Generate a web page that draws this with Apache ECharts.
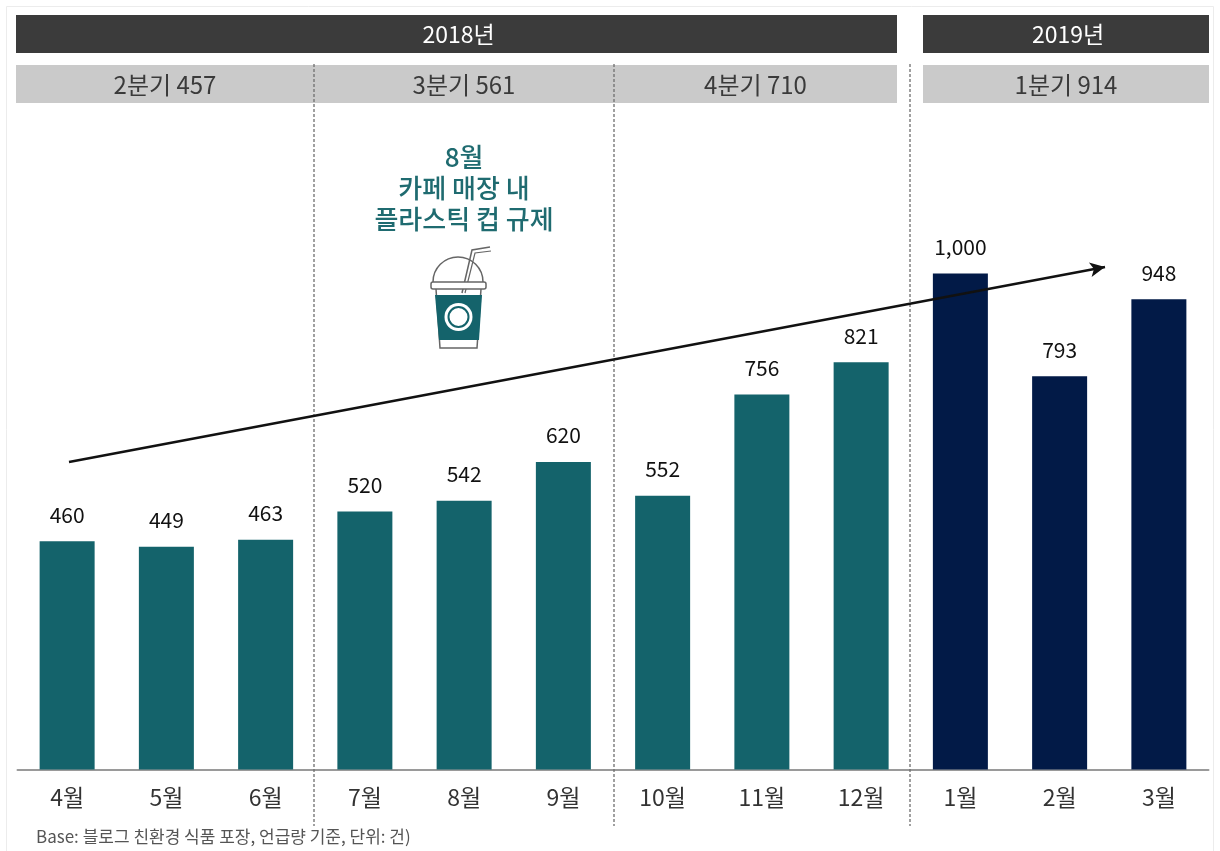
<!DOCTYPE html>
<html><head><meta charset="utf-8">
<style>html,body{margin:0;padding:0;background:#fff}#c{width:1220px;height:851px}</style>
<script src="https://cdn.jsdelivr.net/npm/echarts@6/dist/echarts.min.js"></script>
</head><body><div id="c"></div>
<script>
const months = ['4월','5월','6월','7월','8월','9월','10월','11월','12월','1월','2월','3월'];
const values2018 = [460,449,463,520,542,620,552,756,821,null,null,null];
const values2019 = [null,null,null,null,null,null,null,null,null,1000,793,948];
const yearBands = [['2018년',16,897],['2019년',923,1209]];
const quarterBands = [['2분기 457',16,314],['3분기 561',314,614],['4분기 710',614,897],['1분기 914',923,1209]];
const dividers = [314,614,910];
const noteLines = '8월\n카페 매장 내\n플라스틱 컵 규제';
const footnote = 'Base: 블로그 친환경 식품 포장, 언급량 기준, 단위: 건)';
const FONT = '"Noto Sans CJK KR","Noto Sans",sans-serif';
const TEAL = '#14636b', NAVY = '#021a47';

const graphics = [];
graphics.push({type:'rect',z:0,shape:{x:6.5,y:6.5,width:1207,height:860},style:{fill:'none',stroke:'#ececec',lineWidth:1}});
yearBands.forEach(b=>{
  graphics.push({type:'rect',shape:{x:b[1],y:15,width:b[2]-b[1],height:38},style:{fill:'#3b3b3b'}});
  graphics.push({type:'text',x:(b[1]+b[2])/2+2,y:34,style:{text:b[0],fill:'#fff',font:'23px '+FONT,align:'center',verticalAlign:'middle'}});
});
quarterBands.forEach(b=>{
  graphics.push({type:'rect',shape:{x:b[1],y:65,width:b[2]-b[1],height:38},style:{fill:'#cacaca'}});
  graphics.push({type:'text',x:(b[1]+b[2])/2,y:85,style:{text:b[0],fill:'#3a3a3a',font:'24px '+FONT,align:'center',verticalAlign:'middle'}});
});
dividers.forEach(x=>{
  graphics.push({type:'line',z:5,shape:{x1:x,y1:64,x2:x,y2:826},style:{stroke:'#6e6e6e',lineWidth:1.3,lineDash:[3,2]}});
});
graphics.push({type:'text',x:464,y:188,style:{text:noteLines,fill:'#1f6b70',font:'500 26px '+FONT,lineHeight:31,align:'center',verticalAlign:'middle'}});
graphics.push({type:'text',x:36,y:837,style:{text:footnote,fill:'#555',font:'17px '+FONT,align:'left',verticalAlign:'middle'}});

// cup icon
const line = '#666';
graphics.push({type:'group',z:6,children:[
  {type:'polyline',shape:{points:[[462,293],[472,250],[490,247]]},style:{stroke:line,lineWidth:1.5,fill:'none'}},
  {type:'polyline',shape:{points:[[465,293],[475,253],[491,251]]},style:{stroke:line,lineWidth:1.2,fill:'none'}},
  {type:'arc',shape:{cx:458,cy:282,r:25,startAngle:Math.PI,endAngle:2*Math.PI},style:{stroke:line,lineWidth:1.5,fill:'none'}},
  {type:'rect',shape:{x:431,y:282,width:55,height:7,r:2},style:{stroke:line,lineWidth:1.5,fill:'#fff'}},
  {type:'polyline',shape:{points:[[436,289],[440,348],[477,348],[481,289]]},style:{stroke:line,lineWidth:1.5,fill:'none'}},
  {type:'polygon',shape:{points:[[435,295],[482,295],[479,340],[439,340]]},style:{fill:TEAL}},
  {type:'circle',shape:{cx:458.5,cy:317,r:14},style:{fill:'#fff'}},
  {type:'circle',shape:{cx:458.5,cy:317,r:10},style:{fill:'#fff',stroke:TEAL,lineWidth:2}}
]});

const labelOpt = {show:true,position:'top',distance:16,color:'#111',fontSize:21,fontFamily:FONT,
  formatter:p=>p.value==null?'':p.value.toLocaleString('en-US')};
const chart = echarts.init(document.getElementById('c'),null,{renderer:'canvas'});
chart.setOption({
  animation:false,
  backgroundColor:'#fff',
  grid:{left:17.5,right:11.5,top:273.5,bottom:81.5},
  xAxis:{type:'category',data:months,axisTick:{show:false},
    axisLine:{lineStyle:{color:'#9a9a9a',width:2}},
    axisLabel:{color:'#333',fontSize:23,fontFamily:FONT,margin:16}},
  yAxis:{type:'value',min:0,max:1000,show:false,splitLine:{show:false}},
  series:[
    {name:'2018',type:'bar',stack:'a',barWidth:55,data:values2018,itemStyle:{color:TEAL},label:labelOpt,
     markLine:{silent:true,z:10,symbol:['none','arrow'],symbolSize:[11,15],label:{show:false},
       lineStyle:{color:'#111',width:2.5,type:'solid'},
       data:[[{x:69,y:462},{x:1105,y:267}]]}},
    {name:'2019',type:'bar',stack:'a',barWidth:55,data:values2019,itemStyle:{color:NAVY},label:labelOpt}
  ],
  graphic:graphics
});
</script></body></html>
